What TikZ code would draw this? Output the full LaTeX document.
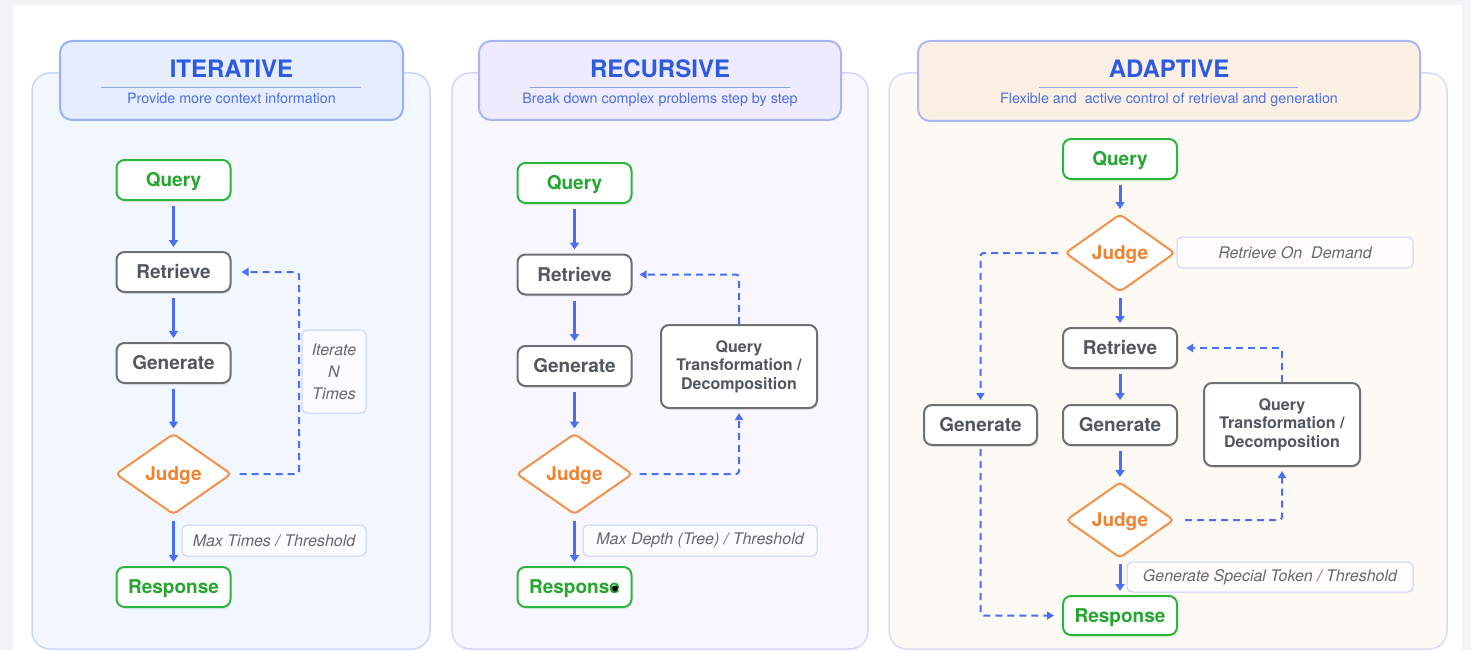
\documentclass[tikz,border=0pt]{standalone}
\usepackage{fontspec}
\setmainfont{TeX Gyre Heros}
\usetikzlibrary{shapes.geometric,arrows.meta,shadows}

\definecolor{pagegray}{HTML}{F3F3F5}
\definecolor{flowblue}{HTML}{4A6FF2}
\definecolor{titleblue}{HTML}{2D5BE0}
\definecolor{subblue}{HTML}{4C70E4}
\definecolor{ruleblue}{HTML}{8AA4F2}
\definecolor{okgreen}{HTML}{22A62E}
\definecolor{okgreenline}{HTML}{2DB63C}
\definecolor{judgeorange}{HTML}{F0822F}
\definecolor{judgeline}{HTML}{F3914B}
\definecolor{nodegray}{HTML}{52575E}
\definecolor{nodeline}{HTML}{6E7074}
\definecolor{notegray}{HTML}{67686D}
\definecolor{noteline}{HTML}{C4D2FA}
\definecolor{itfill}{HTML}{F2F6FF}
\definecolor{itline}{HTML}{C9D7FB}
\definecolor{ithead}{HTML}{E5EDFF}
\definecolor{itheadline}{HTML}{99B2F4}
\definecolor{refill}{HTML}{F8F7FF}
\definecolor{reline}{HTML}{D4D5F8}
\definecolor{rehead}{HTML}{EFEBFF}
\definecolor{reheadline}{HTML}{A9B6F4}
\definecolor{adfill}{HTML}{FDF9F4}
\definecolor{adline}{HTML}{D8DCF4}
\definecolor{adhead}{HTML}{FBF0E3}
\definecolor{adheadline}{HTML}{A9B8EF}

\tikzset{
  panel/.style={rounded corners=18pt, line width=1.5pt},
  headbox/.style={rounded corners=12pt, line width=2pt},
  titletext/.style={anchor=base, text=titleblue, font=\fontsize{24}{29}\selectfont\bfseries},
  subtext/.style={anchor=base, text=subblue, font=\fontsize{14.3}{17}\selectfont},
  titlerule/.style={draw=ruleblue, line width=1pt},
  boxshadow/.style={drop shadow={shadow xshift=1pt, shadow yshift=-2pt, opacity=0.12}},
  procbox/.style={draw=nodeline, fill=white, line width=2pt, rounded corners=8pt,
    minimum width=114pt, minimum height=40pt, inner sep=0pt, text=nodegray,
    text height=13.6pt, text depth=0pt,
    font=\fontsize{19}{22}\selectfont\bfseries, boxshadow},
  endbox/.style={procbox, draw=okgreenline, text=okgreen},
  qtbox/.style={procbox, minimum width=156pt, minimum height=83pt, align=center,
    text height=, text depth=, font=\fontsize{16}{18.5}\selectfont\bfseries},
  judgebox/.style={diamond, draw=judgeline, fill=white, line width=2pt, rounded corners=4pt,
    minimum width=116pt, minimum height=81pt, inner sep=0pt, text=judgeorange,
    text height=13.6pt, text depth=0pt,
    font=\fontsize{19}{22}\selectfont\bfseries},
  notebox/.style={draw=noteline, fill=white, fill opacity=0.7, text opacity=1, line width=1pt,
    rounded corners=5pt, inner sep=0pt, text=notegray, align=center,
    font=\fontsize{16}{22}\selectfont\itshape},
  flow/.style={draw=flowblue, line width=3pt, -{Triangle[width=9pt,length=7pt]},
    shorten <=5pt, shorten >=4pt},
  loop/.style={draw=flowblue, line width=2pt, dash pattern=on 7pt off 5pt,
    rounded corners=3pt, -{Triangle[width=8pt,length=7pt]}},
}

\begin{document}
\begin{tikzpicture}[x=1pt,y=-1pt]
\useasboundingbox (0,0) rectangle (1471,650);
% page and card
\fill[pagegray] (0,0) rectangle (1471,650);
\fill[white] (13,5) rectangle (1462,650);

% ---------------- ITERATIVE ----------------
\draw[panel, fill=itfill, draw=itline] (32,73) rectangle (430,649);
\draw[headbox, fill=ithead, draw=itheadline] (60,41) rectangle (403,120);
\node[titletext] (t1) at (231.5,78) {ITERATIVE};
\draw[titlerule] (101,88) -- (361,88);
\node[subtext] (s1) at (231.5,104) {Provide more context information};

\node[endbox]   (q1)  at (173.5,180) {Query};
\node[procbox]  (r1)  at (173.5,272) {Retrieve};
\node[procbox]  (g1)  at (173.5,363) {Generate};
\node[judgebox] (j1)  at (173.5,474) {Judge};
\node[endbox]   (o1)  at (173.5,587) {Response};
\node[notebox, minimum width=64pt, minimum height=83pt] (n1) at (334,371.5) {Iterate\\N\\Times};
\node[notebox, minimum width=184pt, minimum height=31pt] (m1) at (274,540.5) {Max Times / Threshold};
\coordinate (k1) at (299,272);

\draw[flow] (q1) -- (r1);
\draw[flow] (r1) -- (g1);
\draw[flow] (g1) -- (j1);
\draw[flow] (j1) -- (o1);
\draw[loop, shorten <=7pt, shorten >=10pt] (j1.east) -| (k1) -- (r1.east);

% ---------------- RECURSIVE ----------------
\draw[panel, fill=refill, draw=reline] (452,73) rectangle (868,649);
\draw[headbox, fill=rehead, draw=reheadline] (479,41) rectangle (841,120);
\node[titletext] (t2) at (660,78) {RECURSIVE};
\draw[titlerule] (530,88) -- (790,88);
\node[subtext] (s2) at (660,104) {Break down complex problems step by step};

\node[endbox]   (q2)  at (574.5,183) {Query};
\node[procbox]  (r2)  at (574.5,274.5) {Retrieve};
\node[procbox]  (g2)  at (574.5,366) {Generate};
\node[judgebox] (j2)  at (574.5,474) {Judge};
\node[endbox]   (o2)  at (574.5,587) {Response};
\node[qtbox]    (x2)  at (739,366.5) {Query\\Transformation /\\Decomposition};
\node[notebox, minimum width=234pt, minimum height=31pt] (m2) at (700,540.5) {Max Depth (Tree) / Threshold};
\fill[black] (615,588.5) circle (3pt);

\draw[flow] (q2) -- (r2);
\draw[flow] (r2) -- (g2);
\draw[flow] (g2) -- (j2);
\draw[flow] (j2) -- (o2);
\draw[loop, shorten <=6pt, shorten >=4pt] (j2.east) -| (x2.south);
\draw[loop, shorten >=7pt] (x2.north) |- (r2.east);

% ---------------- ADAPTIVE ----------------
\draw[panel, fill=adfill, draw=adline] (889,73) rectangle (1447,649);
\draw[headbox, fill=adhead, draw=adheadline] (918,41) rectangle (1420,121);
\node[titletext] (t3) at (1169,78) {ADAPTIVE};
\draw[titlerule] (1039,88) -- (1298,88);
\node[subtext] (s3) at (1169,104) {Flexible and\ \ active control of retrieval and generation};

\node[endbox]   (q3)  at (1120,159) {Query};
\node[judgebox, minimum width=110pt, minimum height=78pt] (j3) at (1120,253) {Judge};
\node[notebox, minimum width=236pt, minimum height=31pt] (d3) at (1295,252.5) {Retrieve On\ \ Demand};
\node[procbox]  (r3)  at (1120,348) {Retrieve};
\node[procbox]  (g3)  at (1120,425) {Generate};
\node[procbox, minimum width=113pt] (l3) at (980.5,425) {Generate};
\node[qtbox]    (x3)  at (1282,424.5) {Query\\Transformation /\\Decomposition};
\node[judgebox, minimum width=108pt, minimum height=76pt] (k3) at (1120,520) {Judge};
\node[notebox, minimum width=286pt, minimum height=30pt] (m3) at (1270,577) {Generate Special Token / Threshold};
\node[endbox, minimum height=39pt] (o3) at (1120,615.5) {Response};

\draw[flow] (q3) -- (j3);
\draw[flow] (j3) -- (r3);
\draw[flow] (r3) -- (g3);
\draw[flow] (g3) -- (k3);
\draw[flow] (k3) -- (o3);
\draw[loop, shorten <=6pt, shorten >=4pt] (j3.west) -| (l3.north);
\draw[loop, shorten <=3pt, shorten >=8pt] (l3.south) |- (o3.west);
\draw[loop, shorten <=10pt, shorten >=4pt] (k3.east) -| (x3.south);
\draw[loop, shorten >=8pt] (x3.north) |- (r3.east);
\end{tikzpicture}
\end{document}
